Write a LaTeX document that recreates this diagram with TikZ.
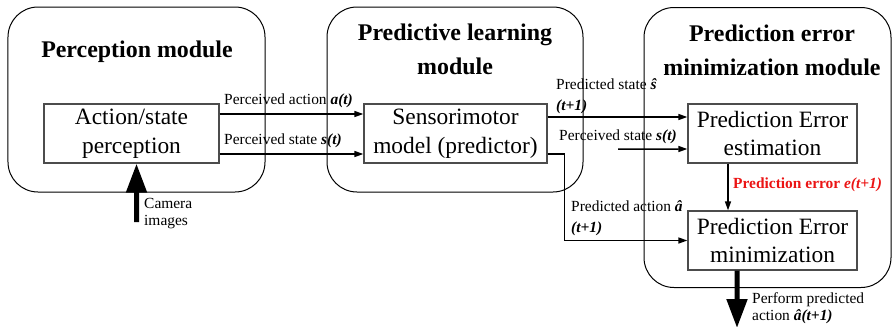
\documentclass[tikz,border=0pt]{standalone}
\usepackage{fontspec}
\IfFontExistsTF{LiberationSerif-Regular.ttf}{%
  \setmainfont{LiberationSerif}[Extension=.ttf,UprightFont=*-Regular,BoldFont=*-Bold,ItalicFont=*-Italic,BoldItalicFont=*-BoldItalic]}{%
  \setmainfont{Liberation Serif}}
\usetikzlibrary{arrows.meta}
\definecolor{errred}{RGB}{235,20,20}
\tikzset{
  module/.style={draw=black, line width=1bp, rounded corners=30bp, inner sep=0},
  pbox/.style={draw=black!70, line width=1.3bp, inner sep=0, align=center,
    font=\fontsize{23.5}{29}\selectfont},
  conn/.style={line width=1.5bp, -{Triangle[length=9bp,width=6bp]}},
  thick arrow/.style={line width=5bp, -{Triangle[length=29bp,width=20bp]}},
  lab/.style={inner sep=0, anchor=base west, font=\fontsize{15.5}{18}\selectfont},
  ttl/.style={inner sep=0, anchor=base, font=\fontsize{24}{28}\selectfont\bfseries},
}
\newcommand{\bi}[1]{\textbf{\textit{#1}}}
\begin{document}
\begin{tikzpicture}[x=1bp,y=-1bp]
\useasboundingbox (0,0) rectangle (893,326);
% modules
\node[module, minimum width=257bp, minimum height=185bp] (m1) at (136.5,99.5) {};
\node[module, minimum width=256bp, minimum height=185bp] (m2) at (455,99.5) {};
\node[module, minimum width=247bp, minimum height=280bp] (m3) at (767.5,147.5) {};
% titles
\node[ttl] (t1) at (137,57) {Perception module};
\node[ttl] (t2a) at (455,40) {Predictive learning};
\node[ttl] (t2b) at (455,74) {module};
\node[ttl] (t3a) at (772,41) {Prediction error};
\node[ttl] (t3b) at (772,75) {minimization module};
% process boxes
\node[pbox, minimum width=175bp, minimum height=59bp] (b1) at (131.5,133.5) {Action/state\\perception};
\node[pbox, minimum width=183bp, minimum height=59bp] (b2) at (455.5,133.5) {Sensorimotor\\model (predictor)};
\node[pbox, minimum width=169bp, minimum height=59bp] (b3) at (772.5,133.5) {Prediction Error\\estimation};
\node[pbox, minimum width=169bp, minimum height=59bp] (b4) at (772.5,240.5) {Prediction Error\\minimization};
% connectors
\draw[conn] ([yshift=19.5bp]b1.east) -- ([yshift=19.5bp]b2.west);
\draw[conn] ([yshift=-20.5bp]b1.east) -- ([yshift=-20.5bp]b2.west);
\draw[conn] ([yshift=16.5bp]b2.east) -- ([yshift=16.5bp]b3.west);
\coordinate (ps) at (618,149);
\draw[conn] (ps) -- ([yshift=-15.5bp]b3.west);
\draw[conn] ([yshift=-20.5bp]b2.east) -- ++(17,0) |- (b4.west);
\draw[conn] ([xshift=-44.5bp]b3.south) -- ([xshift=-44.5bp]b4.north);
\coordinate (out) at (737,328);
\draw[thick arrow] ([xshift=-35.5bp]b4.south) -- (out);
\coordinate (cam) at (136.5,222);
\draw[thick arrow] (cam) -- ([xshift=5bp]b1.south);
% labels
\node[lab] (l1) at (224,104) {Perceived action \bi{a(t)}};
\node[lab] (l2) at (224,144) {Perceived state \bi{s(t)}};
\node[lab] (l3a) at (556,89) {Predicted state \bi{ŝ}};
\node[lab] (l3b) at (556,110) {\bi{(t+1)}};
\node[lab] (l4) at (559,140) {Perceived state \bi{s(t)}};
\node[lab] (l5a) at (571,211) {Predicted action \bi{â}};
\node[lab] (l5b) at (571,232) {\bi{(t+1)}};
\node[lab, text=errred] (l6) at (733,188) {\textbf{Prediction error \textit{e(t+1)}}};
\node[lab] (l7a) at (144,208) {Camera};
\node[lab] (l7b) at (144,225) {images};
\node[lab] (l8a) at (752,303) {Perform predicted};
\node[lab] (l8b) at (752,320) {action \bi{â(t+1)}};
\end{tikzpicture}
\end{document}
